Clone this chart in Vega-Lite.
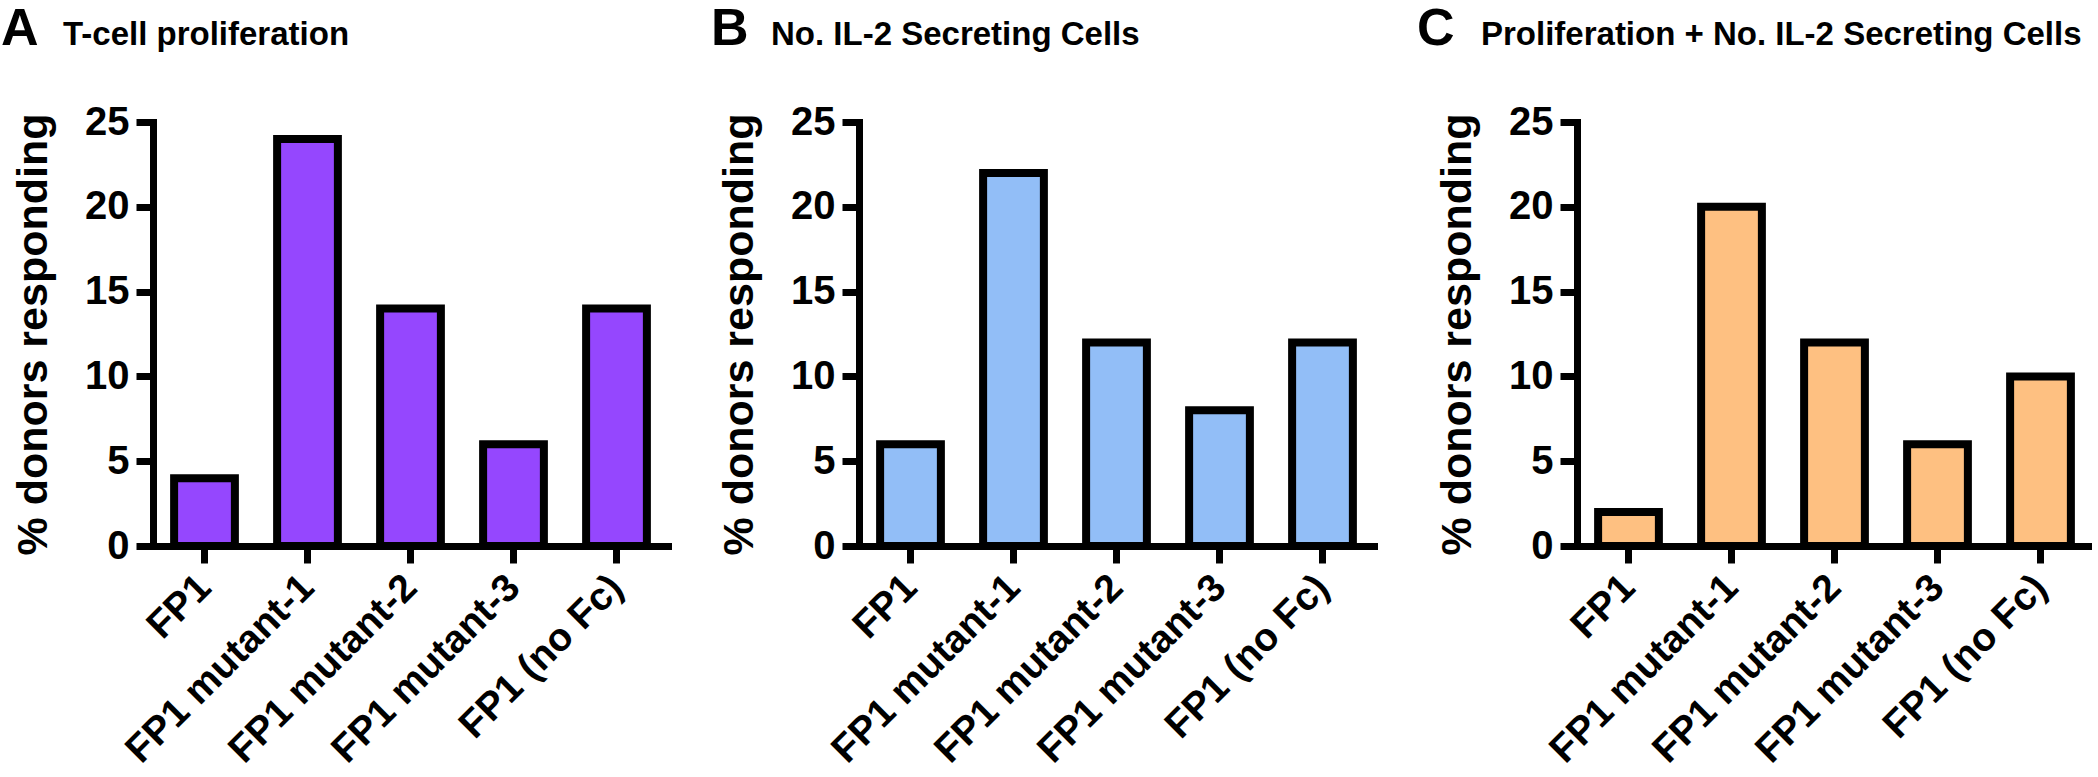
{
  "$schema": "https://vega.github.io/schema/vega-lite/v6.json",
  "padding": {"top": 3, "left": 1, "right": 0, "bottom": 0},
  "autosize": {"type": "pad"},
  "background": "white",
  "spacing": 43,
  "datasets": {
    "A": [
      {"construct": "FP1", "pct": 4},
      {"construct": "FP1 mutant-1", "pct": 24},
      {"construct": "FP1 mutant-2", "pct": 14},
      {"construct": "FP1 mutant-3", "pct": 6},
      {"construct": "FP1 (no Fc)", "pct": 14}
    ],
    "B": [
      {"construct": "FP1", "pct": 6},
      {"construct": "FP1 mutant-1", "pct": 22},
      {"construct": "FP1 mutant-2", "pct": 12},
      {"construct": "FP1 mutant-3", "pct": 8},
      {"construct": "FP1 (no Fc)", "pct": 12}
    ],
    "C": [
      {"construct": "FP1", "pct": 2},
      {"construct": "FP1 mutant-1", "pct": 20},
      {"construct": "FP1 mutant-2", "pct": 12},
      {"construct": "FP1 mutant-3", "pct": 6},
      {"construct": "FP1 (no Fc)", "pct": 10}
    ]
  },
  "hconcat": [
    {
      "title": {"text": "A", "fontSize": 52, "anchor": "start", "frame": "group", "dx": -152, "offset": -37},
      "vconcat": [
        {
          "data": {"name": "A"},
          "width": 515,
          "height": 424,
          "title": {"text": "T-cell proliferation", "fontSize": 33, "anchor": "start", "frame": "group", "dx": -90, "offset": 50},
          "mark": {"type": "bar", "fill": "#9547FE", "stroke": "black", "strokeWidth": 8},
          "encoding": {
            "x": {"field": "construct", "type": "nominal", "sort": null, "scale": {"paddingInner": 0.41, "paddingOuter": 0.205}, "axis": {"title": null}},
            "y": {"field": "pct", "type": "quantitative", "scale": {"domain": [0, 25]}, "axis": {"title": "% donors responding", "values": [0, 5, 10, 15, 20, 25]}}
          }
        }
      ]
    },
    {
      "title": {"text": "B", "fontSize": 52, "anchor": "start", "frame": "group", "dx": -148, "offset": -37},
      "vconcat": [
        {
          "data": {"name": "B"},
          "width": 515,
          "height": 424,
          "title": {"text": "No. IL-2 Secreting Cells", "fontSize": 33, "anchor": "start", "frame": "group", "dx": -88, "offset": 50},
          "mark": {"type": "bar", "fill": "#92BEF7", "stroke": "black", "strokeWidth": 8},
          "encoding": {
            "x": {"field": "construct", "type": "nominal", "sort": null, "scale": {"paddingInner": 0.41, "paddingOuter": 0.205}, "axis": {"title": null}},
            "y": {"field": "pct", "type": "quantitative", "scale": {"domain": [0, 25]}, "axis": {"title": "% donors responding", "values": [0, 5, 10, 15, 20, 25]}}
          }
        }
      ]
    },
    {
      "title": {"text": "C", "fontSize": 52, "anchor": "start", "frame": "group", "dx": -160, "offset": -37},
      "vconcat": [
        {
          "data": {"name": "C"},
          "width": 515,
          "height": 424,
          "title": {"text": "Proliferation + No. IL-2 Secreting Cells", "fontSize": 33, "anchor": "start", "frame": "group", "dx": -96, "offset": 50},
          "mark": {"type": "bar", "fill": "#FEC081", "stroke": "black", "strokeWidth": 8},
          "encoding": {
            "x": {"field": "construct", "type": "nominal", "sort": null, "scale": {"paddingInner": 0.41, "paddingOuter": 0.205}, "axis": {"title": null}},
            "y": {"field": "pct", "type": "quantitative", "scale": {"domain": [0, 25]}, "axis": {"title": "% donors responding", "values": [0, 5, 10, 15, 20, 25]}}
          }
        }
      ]
    }
  ],
  "config": {
    "view": {"stroke": null},
    "font": "Liberation Sans",
    "title": {
      "font": "Liberation Sans",
      "fontWeight": "bold",
      "color": "black"
    },
    "axis": {
      "grid": false,
      "domainColor": "black",
      "domainWidth": 7,
      "domainCap": "square",
      "tickColor": "black",
      "tickWidth": 7,
      "tickSize": 17,
      "labelFont": "Liberation Sans",
      "labelFontSize": 40,
      "labelFontWeight": "bold",
      "labelColor": "black",
      "labelPadding": 7,
      "labelLimit": 0,
      "titleFont": "Liberation Sans",
      "titleFontSize": 43,
      "titleFontWeight": "bold",
      "titleColor": "black"
    },
    "axisX": {"labelAngle": -45, "labelAlign": "right", "labelBaseline": "middle", "labelPadding": 18, "labelFontSize": 39},
    "axisY": {"titlePadding": 29}
  }
}
